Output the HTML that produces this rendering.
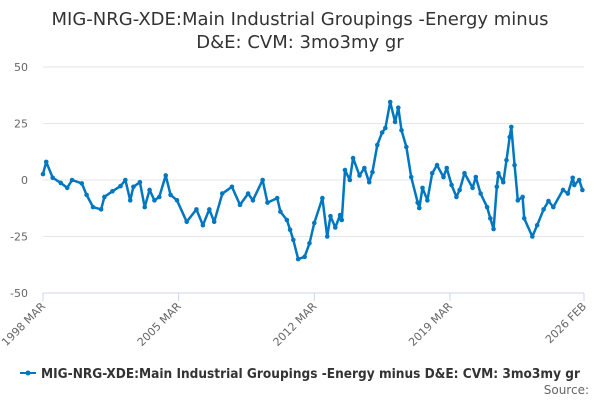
<!DOCTYPE html>
<html><head><meta charset="utf-8"><style>
body{margin:0;background:#fff;font-family:"DejaVu Sans",sans-serif}
svg{display:block;font-family:"DejaVu Sans",sans-serif}
</style></head><body>
<svg id="c" width="600" height="400">
<text x="300" y="25" text-anchor="middle" font-size="18" fill="#333">MIG-NRG-XDE:Main Industrial Groupings -Energy minus</text>
<text x="300" y="48" text-anchor="middle" font-size="18" fill="#333">D&amp;E: CVM: 3mo3my gr</text>
<g id="grid"></g><g id="xaxis"></g><g id="series"></g>
<g>
<line x1="20" y1="373" x2="36" y2="373" stroke="#0077c0" stroke-width="2"/>
<circle cx="28" cy="373" r="2.5" fill="#0077c0"/>
<text x="41" y="378" font-size="13" font-weight="bold" fill="#333" textLength="539" lengthAdjust="spacingAndGlyphs">MIG-NRG-XDE:Main Industrial Groupings -Energy minus D&amp;E: CVM: 3mo3my gr</text>
</g>
<text x="589" y="394" text-anchor="end" font-size="12" fill="#666">Source:</text>
</svg>
<script>
const months=[0,2,6,11,15,18,24,27,31,36,38,43,48,51,54,56,60,63,66,69,72,76,79,83,89,95,99,103,106,111,117,122,127,130,136,139,145,147,151,153,155,158,162,165,168,173,176,178,181,184,185,187,190,192,196,199,202,204,207,210,212,215,218,220,222,225,228,232,233,235,238,241,244,248,250,253,256,258,261,266,268,271,275,277,279,281,282,285,287,289,290,292,294,297,298,303,306,310,313,316,322,325,328,329,332,334];
const values=[2.6,8,1,-1.3,-3.5,0,-1.5,-6.6,-12,-13,-7.5,-5,-2.7,0,-9,-3,-1,-12,-4.4,-9,-7.5,2,-6.6,-9,-18.5,-13,-20,-13,-18.5,-6,-3,-11,-6,-9,0,-10,-8,-14,-17.7,-22,-26.5,-35,-34,-28,-19,-8,-25,-16,-21,-15.5,-17.7,4.4,0,9.7,2,5.3,-1,3.5,15.5,21,23,34.5,25.7,32,22,14.6,1.3,-10,-12.4,-3.5,-9,3,6.6,1.3,5.3,-2.2,-7.5,-4.4,3,-3.5,1.3,-6,-12,-17,-21.7,-3,3,-1,8.8,19,23.5,6.6,-9,-7.5,-17,-25,-20,-13,-9.3,-12,-4.4,-6,1,-2.2,0,-4.4];
const yTicks=[50,25,0,-25,-50];
const xTickMonths=[0,84,168,252,335];
const xTickLabels=["1998 MAR","2005 MAR","2012 MAR","2019 MAR","2026 FEB"];
const NS="http://www.w3.org/2000/svg";
const X0=43,X1=584,Y0=67,Y1=293;
const xs=m=>X0+(m/335)*(X1-X0);
const ys=v=>Y0+(50-v)/100*(Y1-Y0);
function mk(t,a,p){const e=document.createElementNS(NS,t);for(const k in a)e.setAttribute(k,a[k]);p.appendChild(e);return e;}
const grid=document.getElementById('grid');
yTicks.forEach(v=>{
 if(v>-50){const l=mk('line',{x1:X0,x2:X1,y1:ys(v),y2:ys(v),stroke:'#e6e6e6','stroke-width':1},grid);
 
 }
 const t=mk('text',{x:28,y:ys(v)+4,'text-anchor':'end','font-size':11,fill:'#666'},grid);
 t.textContent=v;
 
 
});
const xa=document.getElementById('xaxis');
const ax=mk('line',{x1:X0,x2:X1,y1:Y1,y2:Y1,stroke:'#ccd6eb'},xa);


xTickMonths.forEach((m,i)=>{
 const x=xs(m);
 mk('line',{x1:x,x2:x,y1:Y1,y2:Y1+8,stroke:'#ccd6eb'},xa);
 const t=mk('text',{x:x+3,y:Y1+14,'text-anchor':'end','font-size':11,fill:'#666',transform:`rotate(-45 ${x+3} ${Y1+14})`},xa);
 t.textContent=xTickLabels[i];
 
 
});
const sg=document.getElementById('series');
const pts=months.map((m,i)=>xs(m).toFixed(1)+','+ys(values[i]).toFixed(1)).join(' ');
const pl=mk('polyline',{points:pts,fill:'none',stroke:'#0077c0','stroke-width':2.5,'stroke-linejoin':'round'},sg);


months.forEach((m,i)=>{
 const c=mk('circle',{cx:xs(m),cy:ys(values[i]),r:2.3,fill:'#0077c0'},sg);
 
 
});
</script>
</body></html>
